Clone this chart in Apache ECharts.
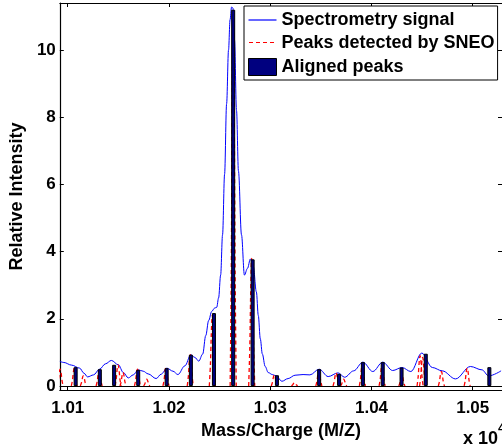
<!DOCTYPE html>
<html>
<head>
<meta charset="utf-8">
<script src="https://cdn.jsdelivr.net/npm/echarts@6/dist/echarts.min.js"></script>
<style>
html,body{margin:0;padding:0;background:#fff;}
#chart{width:502px;height:447px;}
</style>
</head>
<body>
<div id="chart"></div>
<script>
// Spectrometry signal (m/z, relative intensity)
const signalMz = [10092.2,10096.1,10103.9,10111.8,10116.0,10119.6,10125.5,10131.4,10137.3,10143.1,10150.0,10154.9,10159.8,10164.7,10169.6,10174.5,10179.4,10187.3,10192.2,10198.0,10203.9,10208.8,10215.7,10221.6,10225.5,10229.4,10233.3,10236.3,10239.2,10242.2,10245.1,10247.1,10249.0,10251.0,10252.9,10254.9,10256.9,10258.8,10260.3,10261.8,10263.2,10264.7,10266.7,10268.6,10271.6,10274.5,10277.5,10280.4,10283.3,10286.3,10288.2,10290.2,10292.2,10295.0,10298.0,10302.0,10305.9,10311.5,10317.6,10324.5,10332.4,10339.2,10348.3,10357.2,10367.0,10373.5,10382.4,10391.5,10401.3,10411.1,10420.9,10430.1,10438.9,10449.7,10460.1,10469.9,10483.0,10497.7,10509.1,10515.7,10528.0];
const signalIntensity = [0.73,0.70,0.62,0.53,0.38,0.27,0.33,0.50,0.66,0.76,0.63,0.40,0.24,0.33,0.48,0.44,0.36,0.22,0.35,0.53,0.44,0.34,0.60,0.93,0.85,0.74,0.95,1.50,1.95,2.22,2.32,2.34,2.62,3.30,4.50,6.30,8.40,10.0,10.9,11.28,11.25,10.3,8.2,6.4,4.5,3.3,3.5,3.78,3.55,2.8,2.1,1.4,0.95,0.58,0.40,0.34,0.30,0.14,0.22,0.32,0.34,0.33,0.50,0.28,0.39,0.26,0.45,0.71,0.43,0.71,0.46,0.55,0.43,0.98,0.55,0.45,0.21,0.58,0.48,0.30,0.45];

// Peaks detected by SNEO (position, height)
const sneoMz = [10092.5,10106.5,10115.4,10131.0,10149.7,10154.6,10168.9,10178.0,10197.0,10221.0,10242.8,10263.4,10281.7,10304.0,10324.0,10348.0,10365.0,10372.5,10391.0,10410.5,10430.0,10448.0,10450.5,10469.0,10494.5];
const sneoHeight = [0.5,0.53,0.3,0.45,0.63,0.4,0.5,0.2,0.55,0.93,2.1,11.2,3.8,0.33,0.1,0.45,0.39,0.2,0.65,0.65,0.33,0.9,0.85,0.43,0.53];

// Aligned peaks (position, height)
const alignedMz = [10107.8,10131.7,10145.8,10169.6,10197.7,10221.6,10244.4,10263.4,10282.6,10306.6,10348.3,10368.0,10391.5,10411.1,10429.7,10453.6,10516.4];
const alignedHeight = [0.56,0.50,0.63,0.48,0.53,0.93,2.17,11.2,3.77,0.32,0.50,0.36,0.71,0.71,0.55,0.96,0.56];

// Ticks
const xTickValues = [10100,10200,10300,10400,10500];
const xTickLabels = ['1.01','1.02','1.03','1.04','1.05'];
const yTickValues = [0,2,4,6,8,10];
const yTickLabels = ['0','2','4','6','8','10'];

const FONT = '"Liberation Sans", Arial, Helvetica, sans-serif';
const X_MIN = 10092.16, X_MAX = 10528.9;
const Y_MIN = -0.12, Y_MAX = 11.4;

const chart = echarts.init(document.getElementById('chart'), null, {renderer: 'canvas'});

const peakOffsets = [-3,-1.9,-1.1,-0.5,0,0.5,1.1,1.9,3];
const peakFactors = [0.0,0.3,0.7,0.93,1,0.93,0.7,0.3,0.0];

const option = {
  animation: false,
  backgroundColor: '#fff',
  textStyle: {fontFamily: FONT},
  grid: {left: 58, top: 3, width: 445.5, height: 387, containLabel: false},
  xAxis: [{
    type: 'value', min: X_MIN, max: X_MAX, position: 'bottom',
    axisLine: {show: true, onZero: false, lineStyle: {color: '#000', width: 1.2}},
    axisTick: {show: true, inside: true, length: 4, customValues: xTickValues, lineStyle: {color: '#000'}},
    axisLabel: {customValues: xTickValues, margin: 10, color: '#000', fontSize: 17, fontWeight: 'bold', fontFamily: FONT,
      formatter: function (v) { const i = xTickValues.indexOf(v); return i >= 0 ? xTickLabels[i] : ''; }},
    splitLine: {show: false},
    name: 'Mass/Charge (M/Z)', nameLocation: 'middle', nameGap: 25,
    nameTextStyle: {color: '#000', fontSize: 18, fontWeight: 'bold', fontFamily: FONT}
  }, {
    type: 'value', min: X_MIN, max: X_MAX, position: 'top',
    axisLine: {show: true, onZero: false, lineStyle: {color: '#000', width: 1}},
    axisTick: {show: true, inside: true, length: 4, customValues: xTickValues, lineStyle: {color: '#000'}},
    axisLabel: {show: false},
    splitLine: {show: false}
  }],
  yAxis: [{
    type: 'value', min: Y_MIN, max: Y_MAX, position: 'left',
    axisLine: {show: true, onZero: false, lineStyle: {color: '#000', width: 1.2}},
    axisTick: {show: true, inside: true, length: 4, customValues: yTickValues, lineStyle: {color: '#000'}},
    axisLabel: {customValues: yTickValues, margin: 4, color: '#000', fontSize: 17, fontWeight: 'bold', fontFamily: FONT,
      formatter: function (v) { const i = yTickValues.indexOf(v); return i >= 0 ? yTickLabels[i] : ''; }},
    splitLine: {show: false},
    name: 'Relative Intensity', nameLocation: 'middle', nameGap: 31,
    nameTextStyle: {color: '#000', fontSize: 18, fontWeight: 'bold', fontFamily: FONT}
  }, {
    type: 'value', min: Y_MIN, max: Y_MAX, position: 'right',
    axisLine: {show: true, onZero: false, lineStyle: {color: '#000', width: 1}},
    axisTick: {show: true, inside: true, length: 4, customValues: yTickValues, lineStyle: {color: '#000'}},
    axisLabel: {show: false},
    splitLine: {show: false}
  }],
  legend: {
    orient: 'vertical', left: 244, top: 6,
    padding: [5, 3, 4, 4],
    itemWidth: 28, itemHeight: 17, itemGap: 5.5,
    backgroundColor: '#fff', borderColor: '#000', borderWidth: 1, borderRadius: 0,
    textStyle: {color: '#000', fontSize: 18, fontWeight: 'bold', fontFamily: FONT, lineHeight: 17},
    data: [
      {name: 'Spectrometry signal', icon: 'path://M0 0h28v1.2H0z', itemStyle: {color: '#0000ff', borderColor: '#0000ff', borderWidth: 0}},
      {name: 'Peaks detected by SNEO', icon: 'rect', itemStyle: {color: 'rgba(255,255,255,0)', borderColor: 'rgba(255,255,255,0)', borderWidth: 0}},
      {name: 'Aligned peaks', icon: 'rect', itemStyle: {color: '#00007f', borderColor: '#000', borderWidth: 1}}
    ]
  },
  series: [{
    name: 'Spectrometry signal', type: 'line',
    data: signalMz.map((m, i) => [m, signalIntensity[i]]),
    showSymbol: false, symbol: 'none', smooth: 0.35, smoothMonotone: 'x',
    lineStyle: {color: '#0000ff', width: 1}, itemStyle: {color: '#0000ff'},
    clip: true, z: 2
  }, {
    name: 'Peaks detected by SNEO', type: 'custom',
    data: sneoMz.map((m, i) => [m, sneoHeight[i]]),
    clip: true, z: 3,
    itemStyle: {color: '#ff0000', borderColor: '#ff0000'},
    renderItem: function (params, api) {
      const x = api.value(0), h = api.value(1);
      const pts = peakOffsets.map((o, k) => api.coord([x + o, h * peakFactors[k]]));
      return {type: 'polyline', shape: {points: pts, smooth: 0.3},
        style: {stroke: '#ff0000', lineWidth: 1.3, lineDash: [4, 3], fill: null}};
    }
  }, {
    name: 'Aligned peaks', type: 'bar',
    data: alignedMz.map((m, i) => [m, alignedHeight[i]]),
    barWidth: 4, z: 4,
    itemStyle: {color: '#00007f', borderColor: '#000', borderWidth: 1},
    markLine: {silent: true, symbol: ['none', 'none'], label: {show: false},
      lineStyle: {color: '#000', width: 1, type: 'solid'}, data: [{yAxis: 0}]}
  }],
  graphic: [{
    type: 'line', z: 200, silent: true,
    shape: {x1: 249, y1: 42.5, x2: 277, y2: 42.5},
    style: {stroke: '#ff0000', lineWidth: 1.2, lineDash: [4, 3]}
  }, {
    type: 'text', left: 463, top: 422,
    style: {
      text: '{a|x 10}{b|4}',
      rich: {
        a: {fontSize: 18, fontWeight: 'bold', fontFamily: FONT, fill: '#000', padding: [8, 0, 0, 0]},
        b: {fontSize: 13, fontWeight: 'bold', fontFamily: FONT, fill: '#000', verticalAlign: 'top'}
      }
    }
  }]
};
chart.setOption(option);
</script>
</body>
</html>
